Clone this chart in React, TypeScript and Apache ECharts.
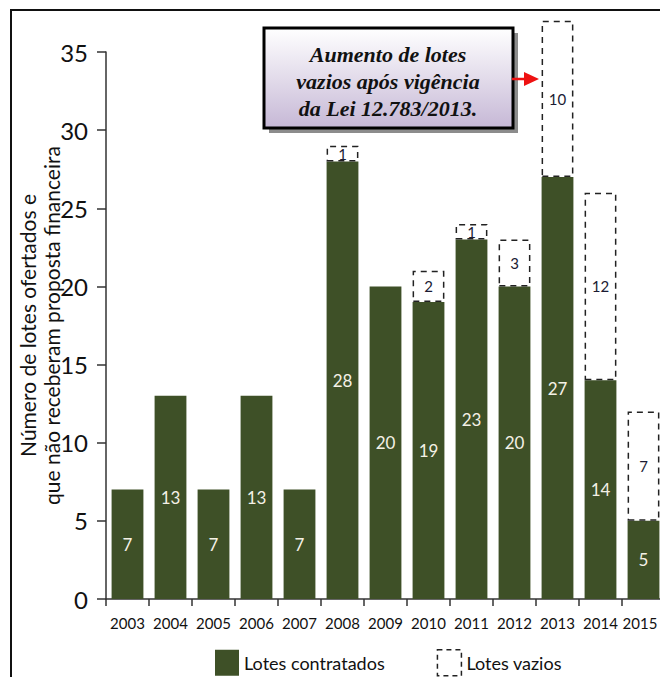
import React, { useEffect, useRef } from "react";
import * as echarts from "echarts";

const years = ["2003", "2004", "2005", "2006", "2007", "2008", "2009", "2010", "2011", "2012", "2013", "2014", "2015"];
const contratados = [7, 13, 7, 13, 7, 28, 20, 19, 23, 20, 27, 14, 5];
const vazios: (number | string)[] = ["-", "-", "-", "-", "-", 1, "-", 2, 1, 3, 10, 12, 7];
const yTicks = { min: 0, max: 35, interval: 5 };
const annotation = "Aumento de lotes\nvazios após vigência\nda Lei 12.783/2013.";

const FONT = "Lato, 'Open Sans', sans-serif";

export default function App() {
  const ref = useRef<HTMLDivElement>(null);
  useEffect(() => {
    if (!ref.current) return;
    const chart = echarts.init(ref.current, null, { renderer: "svg" });
    const last = years.length - 1;
    const categoryData = years.map((y, i) =>
      i === last ? { value: y, textStyle: { padding: [0, 7, 0, 0] } } : y
    );
    chart.setOption({
      animation: false,
      backgroundColor: "#ffffff",
      grid: { left: 106, right: -5, top: 52, bottom: 78, outerBoundsMode: "none", containLabel: false },
      legend: {
        left: 215,
        top: 649,
        padding: 0,
        itemWidth: 24,
        itemHeight: 26,
        itemGap: 52,
        textStyle: { fontFamily: FONT, fontSize: 18, color: "#111" },
        data: [
          { name: "Lotes contratados", icon: "rect" },
          {
            name: "Lotes vazios",
            icon: "rect",
            itemStyle: { color: "#ffffff", borderColor: "#222", borderWidth: 1.5, borderType: [5, 4] },
          },
        ],
      },
      xAxis: {
        type: "category",
        data: categoryData,
        boundaryGap: true,
        axisLine: { lineStyle: { color: "#333", width: 1.5 } },
        axisTick: { show: true, length: 7, lineStyle: { color: "#333", width: 1.5 } },
        axisLabel: {
          interval: 0,
          hideOverlap: false,
          fontFamily: FONT,
          fontSize: 15,
          color: "#111",
          margin: 16,
        },
      },
      yAxis: {
        type: "value",
        min: yTicks.min,
        max: yTicks.max,
        interval: yTicks.interval,
        splitLine: { show: false },
        axisLine: { show: true, lineStyle: { color: "#333", width: 1.5 } },
        axisTick: { show: true, length: 9, lineStyle: { color: "#333", width: 1.5 } },
        axisLabel: { fontFamily: FONT, fontSize: 24, color: "#111", margin: 18 },
        name: "Número de lotes ofertados e\nque não receberam proposta financeira",
        nameLocation: "middle",
        nameGap: 43,
        nameMoveOverlap: false,
        nameTextStyle: { fontFamily: FONT, fontSize: 21, color: "#111", lineHeight: 24 },
      },
      series: [
        {
          name: "Lotes contratados",
          type: "bar",
          stack: "total",
          clip: false,
          barWidth: "74%",
          data: contratados,
          itemStyle: { color: "#3e5027" },
          label: {
            show: true,
            position: "inside",
            fontFamily: FONT,
            fontSize: 17,
            color: "#f4f1e6",
          },
        },
        {
          name: "Lotes vazios",
          type: "bar",
          stack: "total",
          clip: false,
          data: vazios,
          itemStyle: {
            color: "#ffffff",
            borderColor: "#222",
            borderWidth: 1.5,
            borderType: [6, 5],
          },
          label: {
            show: true,
            position: "inside",
            fontFamily: FONT,
            fontSize: 15,
            color: "#1b1b33",
          },
        },
      ],
      graphic: [
        {
          type: "rect",
          shape: { x: 11, y: 10, width: 720, height: 720 },
          style: { fill: "none", stroke: "#111", lineWidth: 2 },
          silent: true,
        },
        {
          type: "rect",
          shape: { x: 269, y: 33, width: 249, height: 100 },
          style: { fill: "#8c8c8c" },
        },
        {
          type: "rect",
          shape: { x: 264, y: 28, width: 249, height: 100 },
          style: {
            fill: new echarts.graphic.LinearGradient(0, 0, 0, 1, [
              { offset: 0, color: "#ffffff" },
              { offset: 1, color: "#c6b8d6" },
            ]),
            stroke: "#000",
            lineWidth: 3,
          },
        },
        {
          type: "text",
          x: 388,
          y: 81,
          style: {
            text: annotation,
            font: "italic bold 22px 'Liberation Serif', 'DejaVu Serif', serif",
            textAlign: "center",
            textVerticalAlign: "middle",
            align: "center",
            verticalAlign: "middle",
            lineHeight: 27,
            fill: "#111",
          },
        },
        {
          type: "line",
          shape: { x1: 512, y1: 79, x2: 527, y2: 79 },
          style: { stroke: "#ee1111", lineWidth: 2.5 },
        },
        {
          type: "polygon",
          shape: { points: [[524, 72], [539, 79], [524, 86]] },
          style: { fill: "#ee1111" },
        },
      ],
    });
    return () => chart.dispose();
  }, []);
  return <div ref={ref} style={{ width: 660, height: 677, position: "absolute", left: 0, top: 0 }} />;
}
